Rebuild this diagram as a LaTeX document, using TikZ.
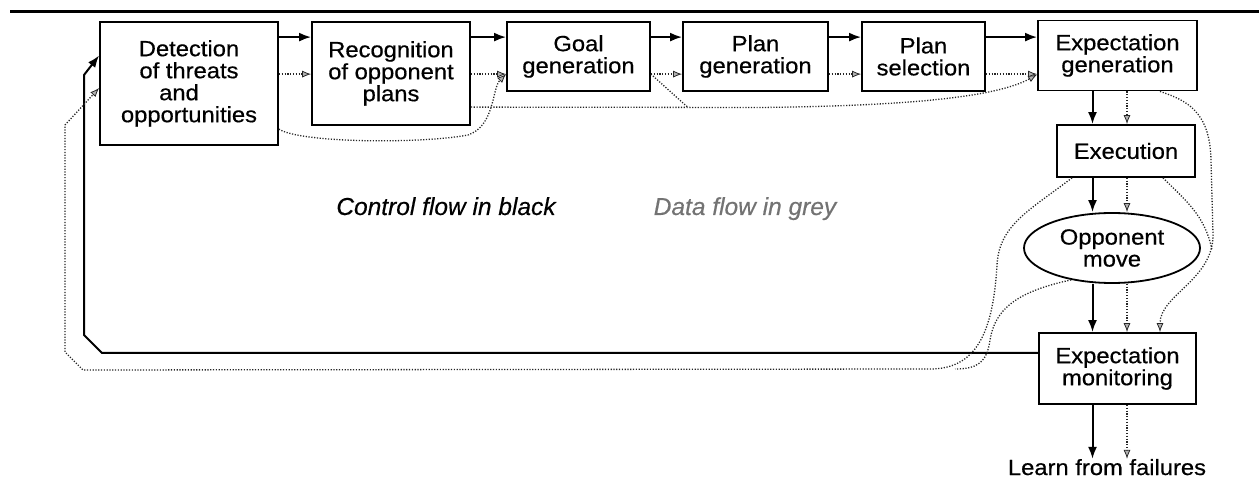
\documentclass[tikz,border=0pt]{standalone}
\usepackage{fontspec}
\setmainfont{Liberation Sans}
\newfontfamily\boxfont[FakeStretch=1.08,FakeBold=0.6]{Liberation Sans}
\newfontfamily\legendfont[FakeBold=0.4]{Liberation Sans}
\usetikzlibrary{arrows.meta,shapes.geometric}

\begin{document}
\begin{tikzpicture}[x=1pt,y=-1pt,
  box/.style={draw,line width=1.8pt,inner sep=0pt,align=center,
    font=\boxfont\fontsize{22}{22}\selectfont},
  ctl/.style={line width=2pt,line join=miter,-{Latex[length=12pt,width=9pt]}},
  datline/.style={draw=black!85,line width=1.3pt,dash pattern=on 1.2pt off 1.6pt},
  dat/.style={datline,-{Latex[length=9pt,width=7pt,fill=black!30,line width=0.8pt]}},
  legend/.style={anchor=base,inner sep=0pt,font=\legendfont\itshape\fontsize{24.5}{25}\selectfont}
]
\useasboundingbox (0,0) rectangle (1259,478);

% rule across the top
\draw[line width=3pt] (10,12) -- (1259,12);

% processing stages
\node[box,minimum width=178pt,minimum height=123pt] (det) at (189,83.5)
  {Detection\\of threats\\\hspace*{-20pt}and\\opportunities};
\node[box,minimum width=158pt,minimum height=103pt] (rec) at (391,73.5)
  {Recognition\\of opponent\\plans};
\node[box,minimum width=143pt,minimum height=69pt] (goal) at (578.5,56.5)
  {Goal\\generation};
\node[box,minimum width=145pt,minimum height=69pt] (pgen) at (755.5,56.5)
  {Plan\\generation};
\node[box,minimum width=123pt,minimum height=69pt] (psel) at (923.5,56.5)
  {Plan\\selection};
\node[box,minimum width=159pt,minimum height=70pt] (egen) at (1117.5,55.5)
  {Expectation\\generation};
\node[box,minimum width=138pt,minimum height=52pt] (exe) at (1126,151)
  {Execution};
\node[box,ellipse,minimum width=176pt,minimum height=70pt] (opp) at (1112,248)
  {Opponent\\move};
\node[box,minimum width=157pt,minimum height=71pt] (mon) at (1117.5,368.5)
  {Expectation\\monitoring};
\node[anchor=base,inner sep=0pt,font=\boxfont\fontsize{22}{22}\selectfont]
  (learn) at (1107,475) {Learn from failures};

% legend
\node[legend] (cf) at (446,215) {Control flow in black};
\node[legend,text=black!55] (df) at (745,215) {Data flow in grey};

% columns of the vertical connectors
\coordinate (cx) at (1092.5,0);
\coordinate (dx) at (1127,0);

% control flow
\draw[ctl] ([yshift=-16pt]det.north east) -- ([yshift=-16pt]det.north east -| rec.west);
\draw[ctl] ([yshift=-16pt]rec.north east) -- ([yshift=-16pt]rec.north east -| goal.west);
\draw[ctl] ([yshift=-16pt]goal.north east) -- ([yshift=-16pt]goal.north east -| pgen.west);
\draw[ctl] ([yshift=-16pt]pgen.north east) -- ([yshift=-16pt]pgen.north east -| psel.west);
\draw[ctl] ([yshift=-16pt]psel.north east) -- ([yshift=-16pt]psel.north east -| egen.west);
\draw[ctl] (egen.south -| cx) -- (exe.north -| cx);
\draw[ctl] (exe.south -| cx) -- (opp.north -| cx);
\draw[ctl] (opp.south -| cx) -- (mon.north -| cx);
\draw[ctl] (mon.south -| cx) -- (learn.north -| cx);

% feedback loop back to detection
\coordinate (f1) at (102,353);
\coordinate (f2) at (84,335);
\coordinate (f3) at (84,75);
\draw[ctl] (mon.west |- f1) -- (f1) -- (f2) -- (f3) -- ([yshift=28pt]det.west);

% data flow along the top row
\draw[dat] ([yshift=-53pt]det.north east) -- ([yshift=-53pt]det.north east -| rec.west);
\draw[dat] ([yshift=-53pt]rec.north east) -- ([yshift=-53pt]rec.north east -| goal.west);
\draw[dat] ([yshift=-53pt]goal.north east) -- ([yshift=-53pt]goal.north east -| pgen.west);
\draw[dat] ([yshift=-53pt]pgen.north east) -- ([yshift=-53pt]pgen.north east -| psel.west);
\draw[dat] ([yshift=-53pt]psel.north east) -- ([yshift=-53pt]psel.north east -| egen.west);

% detection -> goal generation
\draw[dat] ([yshift=-108pt]det.north east)
  .. controls (300,143) and (420,144) .. (468,135)
  .. controls (495,126) and (492,88) .. ([yshift=-53pt]goal.north west);

% recognition (and goal) -> expectation generation
\coordinate (m1) at (688,107.5);
\draw[datline] ([yshift=-53pt]goal.north east) -- (m1);
\draw[dat] ([yshift=-86pt]rec.north east) -- (760,107.5)
  .. controls (900,106) and (995,98) .. ([yshift=-55pt]egen.north west);

% data flow down the right column
\draw[dat] (egen.south -| dx) -- (exe.north -| dx);
\draw[dat] (exe.south -| dx) -- (opp.north -| dx);
\draw[dat] (opp.south -| dx) -- (mon.north -| dx);
\draw[dat] (mon.south -| dx) -- (learn.north -| dx);

% expectation generation / execution -> monitoring
\draw[dat] ([xshift=42.5pt]egen.south)
  .. controls (1185,100) and (1210,110) .. (1211,160) -- (1213,235)
  .. controls (1213,280) and (1160,295) .. ([xshift=42.5pt]mon.north);
\draw[datline] ([xshift=37pt]exe.south)
  .. controls (1185,200) and (1205,215) .. (1212,250);

% execution / opponent move -> detection
\coordinate (f4) at (83,370);
\coordinate (f5) at (65,352);
\coordinate (f6) at (65,125);
\draw[dat] ([xshift=-54pt]exe.south)
  .. controls (1030,210) and (999,225) .. (997,265)
  .. controls (993,335) and (975,369) .. (930,369)
  -- (f4) -- (f5) -- (f6) -- ([yshift=-4.5pt]det.west);
\draw[datline] (opp.218)
  .. controls (1015,292) and (995,310) .. (990,340)
  .. controls (987,362) and (978,369) .. (955,369);
\end{tikzpicture}
\end{document}
